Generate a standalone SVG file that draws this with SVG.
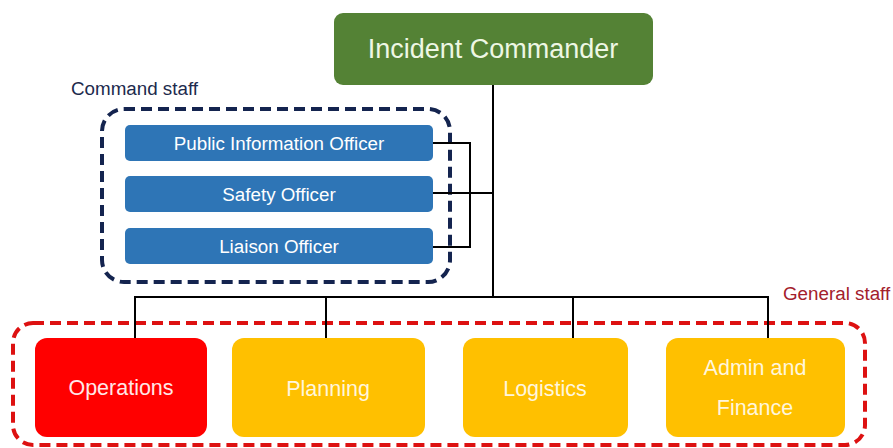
<svg xmlns="http://www.w3.org/2000/svg" width="893" height="448" viewBox="0 0 893 448">
  <style>
    text { font-family: "Liberation Sans", Arial, Helvetica, sans-serif; }
    .mid { text-anchor: middle; }
    .officer { fill: #2e75b6; }
    .officer-label { font-size: 18.8px; fill: #ffffff; }
    .section { fill: #ffc000; }
    .section-label { font-size: 21.5px; fill: #fff6dc; }
    .conn { stroke: #000000; stroke-width: 2; fill: none; }
  </style>
  <rect width="893" height="448" fill="#ffffff"/>

  <!-- staff groupings -->
  <g id="command-staff">
    <rect x="102" y="109" width="348" height="173" rx="22" fill="none" stroke="#14244f" stroke-width="4" stroke-dasharray="11 6"/>
    <text x="71" y="95" font-size="18.8" fill="#1c2a4d">Command staff</text>
  </g>
  <g id="general-staff">
    <rect x="13" y="323" width="852" height="122" rx="20" fill="none" stroke="#dd1111" stroke-width="4" stroke-dasharray="11 6"/>
    <text x="783" y="300" font-size="18.8" fill="#a3202c">General staff</text>
  </g>

  <!-- connectors -->
  <g id="connectors">
    <path class="conn" d="M493 85 V297"/>
    <path class="conn" d="M433 143 H470 V247 H433"/>
    <path class="conn" d="M433 193 H493"/>
    <path class="conn" d="M135 338 V297 H768 V338"/>
    <path class="conn" d="M326 297 V338"/>
    <path class="conn" d="M573 297 V338"/>
  </g>

  <g id="incident-commander">
    <rect x="334" y="13" width="319" height="72" rx="9" fill="#548235"/>
    <text class="mid" x="493" y="58" font-size="27" fill="#eef7e4">Incident Commander</text>
  </g>

  <g id="public-information-officer">
    <rect class="officer" x="125" y="125" width="308" height="36" rx="5"/>
    <text class="mid officer-label" x="279" y="150">Public Information Officer</text>
  </g>
  <g id="safety-officer">
    <rect class="officer" x="125" y="176" width="308" height="36" rx="5"/>
    <text class="mid officer-label" x="279" y="201">Safety Officer</text>
  </g>
  <g id="liaison-officer">
    <rect class="officer" x="125" y="228" width="308" height="36" rx="5"/>
    <text class="mid officer-label" x="279" y="253">Liaison Officer</text>
  </g>

  <g id="operations">
    <rect x="35" y="338" width="172" height="99" rx="12" fill="#ff0000"/>
    <text class="mid" x="121" y="395" font-size="21.5" fill="#ffe8e8">Operations</text>
  </g>
  <g id="planning">
    <rect class="section" x="232" y="338" width="193" height="99" rx="12"/>
    <text class="mid section-label" x="328" y="396">Planning</text>
  </g>
  <g id="logistics">
    <rect class="section" x="463" y="338" width="165" height="99" rx="12"/>
    <text class="mid section-label" x="545" y="396">Logistics</text>
  </g>
  <g id="admin-finance">
    <rect class="section" x="666" y="338" width="179" height="99" rx="12"/>
    <text class="mid section-label" x="755" y="375">Admin and</text>
    <text class="mid section-label" x="755" y="415">Finance</text>
  </g>
</svg>
